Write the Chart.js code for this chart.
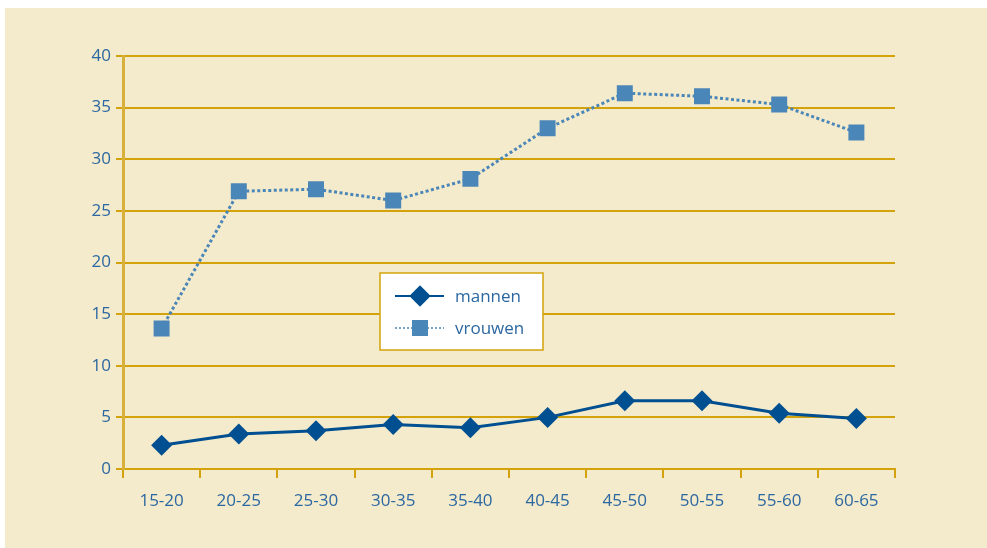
<!DOCTYPE html>
<html>
<head>
<meta charset="utf-8">
<script src="https://cdn.jsdelivr.net/npm/chart.js@4.4.1/dist/chart.umd.min.js"></script>
<style>
  html, body { margin: 0; padding: 0; background: #ffffff; }
  #wrap { position: absolute; left: 5px; top: 8px; width: 982px; height: 540px; background: #f4ebcc; }
  canvas { display: block; }
</style>
</head>
<body>
<div id="wrap"><canvas id="chart" width="982" height="540"></canvas></div>
<script>
'use strict';

// ***** DATA *****
const ageGroups = ['15-20', '20-25', '25-30', '30-35', '35-40', '40-45', '45-50', '50-55', '55-60', '60-65'];
const mannen = [2.3, 3.4, 3.7, 4.3, 4.0, 5.0, 6.6, 6.6, 5.4, 4.9];
const vrouwen = [13.6, 26.9, 27.1, 26.0, 28.1, 33.0, 36.4, 36.1, 35.3, 32.6];
const yTicks = [0, 5, 10, 15, 20, 25, 30, 35, 40];

// ***** STYLES *****
const gold = '#d4a20a';
const axisGold = '#d8b03c';
const textBlue = '#2b67a0';
const darkBlue = '#004f91';
const lightBlue = '#4b86b8';
const font = { family: '"Open Sans", "Noto Sans", sans-serif', size: 17 };

// legend drawn inside the chart canvas
const boxLegend = {
  id: 'boxLegend',
  afterDraw(chart) {
    const ctx = chart.ctx;
    const bx = 375, by = 265, bw = 163, bh = 77;
    ctx.save();
    ctx.fillStyle = '#ffffff';
    ctx.fillRect(bx, by, bw, bh);
    ctx.strokeStyle = gold;
    ctx.lineWidth = 1.5;
    ctx.strokeRect(bx, by, bw, bh);

    const items = [
      { label: 'mannen', color: darkBlue, dash: [], width: 2, style: 'rectRot', radius: 10.5, y: by + 23 },
      { label: 'vrouwen', color: lightBlue, dash: [2, 2], width: 1.5, style: 'rect', radius: 11.3, y: by + 55 }
    ];
    items.forEach(item => {
      ctx.beginPath();
      ctx.setLineDash(item.dash);
      ctx.strokeStyle = item.color;
      ctx.lineWidth = item.width;
      ctx.moveTo(bx + 15, item.y);
      ctx.lineTo(bx + 64, item.y);
      ctx.stroke();
      ctx.setLineDash([]);
      ctx.fillStyle = item.color;
      Chart.helpers.drawPoint(ctx, { pointStyle: item.style, radius: item.radius, borderWidth: 0 }, bx + 40, item.y);
      ctx.fill();
      ctx.fillStyle = textBlue;
      ctx.font = '17px "Open Sans", "Noto Sans", sans-serif';
      ctx.textBaseline = 'middle';
      ctx.fillText(item.label, bx + 75, item.y + 1);
    });
    ctx.restore();
  }
};

new Chart(document.getElementById('chart'), {
  type: 'line',
  data: {
    labels: ageGroups,
    datasets: [
      {
        label: 'mannen',
        data: mannen,
        borderColor: darkBlue,
        backgroundColor: darkBlue,
        borderWidth: 3,
        pointStyle: 'rectRot',
        pointRadius: 10.5,
        pointBorderWidth: 0,
        tension: 0
      },
      {
        label: 'vrouwen',
        data: vrouwen,
        borderColor: lightBlue,
        backgroundColor: lightBlue,
        borderWidth: 3,
        borderDash: [3, 2.5],
        pointStyle: 'rect',
        pointRadius: 11.3,
        pointBorderWidth: 0,
        tension: 0
      }
    ]
  },
  options: {
    responsive: false,
    animation: false,
    layout: { padding: { top: 48, right: 92, left: 0, bottom: 0 } },
    plugins: {
      legend: { display: false },
      tooltip: { enabled: false }
    },
    scales: {
      x: {
        type: 'category',
        offset: true,
        afterFit(scale) { scale.height = 79; },
        grid: {
          offset: true,
          drawOnChartArea: true,
          color: ctx => (ctx.index === ageGroups.length ? gold : 'rgba(0,0,0,0)'),
          lineWidth: 2,
          tickColor: gold,
          tickLength: 9
        },
        border: { display: true, color: gold, width: 2 },
        ticks: { color: textBlue, font: font, padding: 13, maxRotation: 0 }
      },
      y: {
        min: 0,
        max: 40,
        afterFit(scale) { scale.width = 118; },
        afterBuildTicks(scale) { scale.ticks = yTicks.map(v => ({ value: v })); },
        grid: { color: gold, lineWidth: 2, tickLength: 7, tickColor: gold },
        border: { display: true, color: axisGold, width: 3 },
        ticks: { color: textBlue, font: font, padding: 5 }
      }
    }
  },
  plugins: [boxLegend]
});
</script>
</body>
</html>
